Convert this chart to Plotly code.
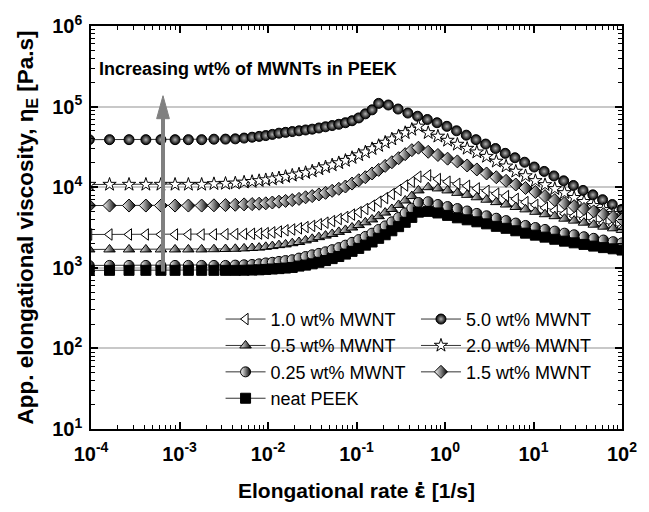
import plotly.graph_objects as go

# ---------------- data ----------------
rate_common = [9.55e-5, 1.62e-4, 2.69e-4, 4.17e-4, 6.17e-4, 8.91e-4, 1.26e-3, 1.78e-3,
               2.45e-3, 3.31e-3, 4.27e-3, 5.37e-3, 6.61e-3, 7.94e-3, 9.44e-3, 1.12e-2,
               1.33e-2, 1.58e-2, 1.88e-2, 2.24e-2, 2.66e-2, 3.16e-2, 3.76e-2, 4.47e-2,
               5.31e-2, 6.31e-2, 7.50e-2, 8.91e-2, 0.106, 0.126, 0.150, 0.178, 0.211,
               0.251, 0.299, 0.355, 0.422, 0.501,
               0.646, 0.832, 1.07, 1.38, 1.78, 2.29, 2.95, 3.80, 4.90, 6.31, 8.13, 10.5,
               13.5, 17.4, 22.4, 28.8, 37.2, 47.9, 61.7, 79.4, 100]

rate_5wt = [9.55e-5, 1.62e-4, 2.69e-4, 4.17e-4, 6.17e-4, 8.91e-4, 1.26e-3, 1.78e-3,
            2.45e-3, 3.31e-3, 4.27e-3, 5.37e-3, 6.61e-3, 7.94e-3, 9.44e-3, 1.12e-2,
            1.33e-2, 1.58e-2, 1.88e-2, 2.24e-2, 2.66e-2, 3.16e-2, 3.76e-2, 4.47e-2,
            5.31e-2, 6.31e-2, 7.50e-2, 8.91e-2, 0.106, 0.126, 0.150, 0.178,
            0.229, 0.295, 0.380, 0.490, 0.631, 0.813, 1.05, 1.35, 1.74, 2.24, 2.88,
            3.72, 4.79, 6.17, 7.94, 10.2, 13.2, 17.0, 21.9, 28.2, 36.3, 46.8, 60.3,
            77.6, 100]

eta_5wt = [38900, 38900, 38900, 38900, 38900, 38900, 38900, 38900,
           39400, 39500, 39800, 40700, 41700, 42700, 43700, 45200, 46800, 47900,
           49000, 50100, 51300, 52500, 54300, 56200, 58200, 60300, 63100, 66800,
           72400, 81300, 91200, 109600,
           104700, 93300, 83200, 75900, 69200, 63100, 56900, 50100, 44200, 38900,
           34300, 30200, 26300, 23200, 20400, 17800, 15700, 13800, 12000, 10500,
           9120, 8040, 7000, 6100, 5310]

eta_2wt = [10800, 10800, 10800, 10800, 10800, 10800, 10800, 10800,
           11000, 11100, 11200, 11500, 11700, 12000, 12300, 12600, 13000, 13500,
           14000, 14500, 15100, 15800, 16800, 17800, 18800, 20000, 21400, 23200,
           25100, 27200, 29900, 32700, 35900, 39400, 43200, 47300, 51900, 56900,
           47300, 42700, 38000, 33900, 30200, 27200, 24000, 20900, 18200, 15700,
           13800, 12000, 10700, 9550, 8510, 7410, 6610, 5890, 5250, 4680, 4270]

eta_15wt = [5920, 5920, 5920, 5920, 5920, 5920, 5920, 5920,
            5960, 6000, 6050, 6120, 6170, 6240, 6310, 6460, 6610, 6760,
            6920, 7160, 7500, 7760, 8130, 8510, 9020, 9550, 10200, 11100,
            12200, 13300, 14800, 16400, 18400, 20400, 22900, 25700, 28800, 30900,
            27500, 25100, 22600, 20900, 18600, 16600, 14800, 13300, 12000, 10800,
            9770, 8710, 7760, 6920, 6310, 5820, 5370, 5010, 4620, 4270, 3980]

eta_1wt = [2590, 2590, 2590, 2590, 2590, 2590, 2590, 2590,
           2600, 2610, 2620, 2630, 2640, 2660, 2690, 2750, 2820, 2920,
           2990, 3090, 3200, 3310, 3470, 3630, 3800, 4030, 4270, 4570,
           4900, 5370, 5890, 6610, 7330, 8220, 9230, 10500, 11700, 13500,
           14000, 12600, 11700, 11000, 10400, 9660, 9020, 8320, 7760, 7160,
           6530, 6030, 5560, 5130, 4680, 4370, 4070, 3850, 3590, 3390, 3200]

eta_05wt = [1690, 1690, 1690, 1690, 1690, 1690, 1690, 1690,
            1700, 1710, 1720, 1740, 1760, 1780, 1820, 1860, 1910, 1950,
            2020, 2090, 2190, 2290, 2400, 2510, 2630, 2790, 2950, 3160,
            3390, 3670, 3980, 4370, 4840, 5370, 6030, 6840, 7760, 9120,
            10000, 9660, 9120, 8510, 8040, 7500, 7000, 6530, 6100, 5690,
            5310, 4950, 4620, 4370, 4070, 3850, 3630, 3430, 3240, 3090, 2950]

eta_025wt = [1070, 1070, 1070, 1070, 1070, 1070, 1070, 1070, 1070, 1070,
             1080, 1090, 1100, 1120, 1150, 1170, 1200, 1230, 1260, 1320,
             1380, 1450, 1510, 1580, 1680, 1780, 1910, 2070, 2240, 2450,
             2690, 2990, 3310, 3720, 4220, 4790, 5500, 6460,
             6610, 6100, 5750, 5430, 5070, 4730, 4420, 4120, 3850, 3590,
             3350, 3160, 2990, 2850, 2690, 2570, 2430, 2320, 2210, 2110, 2040]

eta_neat = [930, 930, 930, 930, 930, 930, 930, 930, 930, 930, 930,
            933, 938, 944, 955, 966, 977, 993, 1010, 1050, 1080, 1120,
            1170, 1230, 1300, 1380, 1480, 1600, 1740, 1910, 2090, 2320,
            2570, 2880, 3240, 3670, 4220, 4900,
            5010, 4790, 4470, 4170, 3940, 3720, 3510, 3270, 3090, 2880,
            2690, 2540, 2400, 2260, 2140, 2040, 1950, 1860, 1780, 1720, 1660]

x_tick_vals = [1e-4, 1e-3, 1e-2, 1e-1, 1e0, 1e1, 1e2]
x_tick_text = ["10<sup>-4</sup>", "10<sup>-3</sup>", "10<sup>-2</sup>", "10<sup>-1</sup>",
               "10<sup>0</sup>", "10<sup>1</sup>", "10<sup>2</sup>"]
y_tick_vals = [1e1, 1e2, 1e3, 1e4, 1e5, 1e6]
y_tick_text = ["10<sup>1</sup>", "10<sup>2</sup>", "10<sup>3</sup>", "10<sup>4</sup>",
               "10<sup>5</sup>", "10<sup>6</sup>"]

FONT = "Liberation Sans, Arial, sans-serif"
LINE = "#333333"

# (name, x, y, symbol, fill, gradient, legend)
series = [
    ("1.0 wt% MWNT", rate_common, eta_1wt, "triangle-left", "white", None, "legend"),
    ("0.5 wt% MWNT", rate_common, eta_05wt, "triangle-up", "white", "black", "legend"),
    ("0.25 wt% MWNT", rate_common, eta_025wt, "circle", "white", "black", "legend"),
    ("neat PEEK", rate_common, eta_neat, "square", "black", None, "legend"),
    ("5.0 wt% MWNT", rate_5wt, eta_5wt, "circle", "black", "radial", "legend2"),
    ("2.0 wt% MWNT", rate_common, eta_2wt, "star", "white", None, "legend2"),
    ("1.5 wt% MWNT", rate_common, eta_15wt, "diamond", "white", "black", "legend2"),
]

fig = go.Figure()
for name, xs, ys, sym, fill, grad, leg in series:
    marker = dict(symbol=sym, size=10, color=fill, line=dict(color="black", width=1))
    if grad == "radial":
        marker["gradient"] = dict(type="radial", color="#b0b0b0")
    elif grad is not None:
        marker["gradient"] = dict(type="horizontal", color=grad)
    fig.add_trace(go.Scatter(x=xs, y=ys, mode="lines+markers", name=name,
                             line=dict(color=LINE, width=1), marker=marker,
                             legend=leg))

axis_common = dict(
    type="log", showline=True, linecolor="black", linewidth=1.5, mirror="allticks",
    ticks="inside", ticklen=7, tickwidth=1.5, tickcolor="black",
    tickmode="array",
    tickfont=dict(family=FONT, size=20, color="black", weight="bold"),
    minor=dict(ticks="inside", ticklen=4, tickwidth=1, tickcolor="black", dtick="D1",
               showgrid=False),
    zeroline=False,
)

x_title = ("<b>Elongational rate "
           "<span style='font-family:DejaVu Sans'>ε̇</span> [1/s]</b>")

fig.update_xaxes(**axis_common, range=[-4, 2], showgrid=False,
                 tickvals=x_tick_vals, ticktext=x_tick_text, ticklabelstandoff=6,
                 title=dict(text=x_title,
                            font=dict(family=FONT, size=21, color="black"), standoff=20))
fig.update_yaxes(**axis_common, range=[1, 6], showgrid=True, gridcolor="#c8c8c8",
                 gridwidth=1.5, tickvals=y_tick_vals, ticktext=y_tick_text,
                 ticklabelstandoff=3,
                 title=dict(text="<b>App. elongational viscosity, η<sub>E</sub> [Pa.s]</b>",
                            font=dict(family=FONT, size=22.5, color="black"), standoff=12))

legend_font = dict(family=FONT, size=18, color="black")
fig.update_layout(
    width=649, height=512,
    margin=dict(l=91, r=16, t=25, b=83),
    plot_bgcolor="white", paper_bgcolor="white",
    showlegend=True,
    legend=dict(x=0.244, y=0.318, xanchor="left", yanchor="top", font=legend_font,
                bgcolor="rgba(0,0,0,0)", itemwidth=40, tracegroupgap=0),
    legend2=dict(x=0.612, y=0.318, xanchor="left", yanchor="top", font=legend_font,
                 bgcolor="rgba(0,0,0,0)", itemwidth=40, tracegroupgap=0),
    annotations=[dict(text="<b>Increasing wt% of MWNTs in PEEK</b>", xref="paper", yref="paper",
                      x=0.012, y=0.894, xanchor="left", yanchor="middle", showarrow=False,
                      font=dict(family=FONT, size=18, color="black"))],
    shapes=[
        dict(type="line", xref="paper", yref="paper", x0=0.1356, x1=0.1356, y0=0.391, y1=0.775,
             line=dict(color="#808080", width=4)),
        dict(type="path", xref="paper", yref="paper",
             path="M 0.1236 0.770 L 0.1476 0.770 L 0.1356 0.827 Z",
             fillcolor="#808080", line=dict(color="#808080", width=1)),
    ],
)

fig.write_html("out.html")
